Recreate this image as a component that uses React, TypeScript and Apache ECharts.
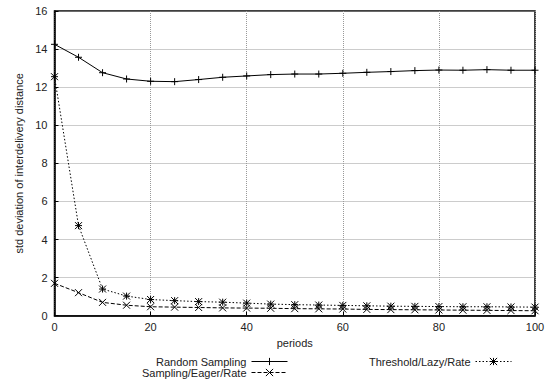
import React, { useEffect, useRef } from 'react';
import * as echarts from 'echarts';

const periods = [0, 5, 10, 15, 20, 25, 30, 35, 40, 45, 50, 55, 60, 65, 70, 75, 80, 85, 90, 95, 100];
const randomSampling = [14.25, 13.57, 12.76, 12.43, 12.31, 12.29, 12.4, 12.52, 12.59, 12.66, 12.69, 12.69, 12.73, 12.78, 12.82, 12.87, 12.9, 12.89, 12.92, 12.89, 12.89];
const samplingEagerRate = [1.7, 1.21, 0.7, 0.55, 0.47, 0.45, 0.43, 0.41, 0.4, 0.39, 0.37, 0.36, 0.35, 0.33, 0.32, 0.31, 0.3, 0.29, 0.28, 0.27, 0.26];
const thresholdLazyRate = [12.55, 4.73, 1.4, 1.03, 0.85, 0.79, 0.74, 0.71, 0.66, 0.61, 0.58, 0.56, 0.54, 0.52, 0.5, 0.49, 0.48, 0.47, 0.47, 0.46, 0.45];

const seriesNames = ['Random Sampling', 'Sampling/Eager/Rate', 'Threshold/Lazy/Rate'];
const xName = 'periods';
const yName = 'std deviation of interdelivery distance';

const FONT = '"Liberation Sans", Arial, Helvetica, sans-serif';
const TXT = '#222';

const plusSym = 'path://M0,-1V1M-1,0H1';
const crossSym = 'path://M-1,-1L1,1M-1,1L1,-1';
const starSym = 'path://M0,-1V1M-1,0H1M-1,-1L1,1M-1,1L1,-1';

const pairs = (ys: number[]) => periods.map((x, i) => [x, ys[i]]);

export default function App() {
  const ref = useRef<HTMLDivElement>(null);
  useEffect(() => {
    document.body.style.margin = '0';
    if (!ref.current) return;
    const chart = echarts.init(ref.current, undefined, { renderer: 'svg' });
    const mkSeries = (name: string, ys: number[], symbol: string, lineType: any) => ({
      name,
      type: 'line',
      data: pairs(ys),
      symbol,
      symbolSize: 7,
      showSymbol: true,
      lineStyle: { color: '#000', width: 1, type: lineType },
      itemStyle: { color: '#000', borderColor: '#000', borderWidth: 1 },
      emphasis: { disabled: true },
    });
    const legendBase = {
      orient: 'vertical',
      align: 'right',
      top: 356,
      padding: 0,
      itemGap: 0,
      itemWidth: 36,
      itemHeight: 9,
      selectedMode: false,
      lineStyle: { width: 1 },
      itemStyle: { borderWidth: 1 },
      textStyle: { color: TXT, fontSize: 11, lineHeight: 11, fontFamily: FONT },
    };
    chart.setOption({
      animation: false,
      backgroundColor: '#fff',
      textStyle: { fontFamily: FONT },
      grid: {
        left: 54.5,
        right: 13,
        top: 11,
        bottom: 67.3,
        show: true,
        borderColor: '#000',
        borderWidth: 1.5,
        backgroundColor: 'transparent',
      },
      xAxis: {
        type: 'value',
        min: 0,
        max: 100,
        interval: 20,
        name: xName,
        nameLocation: 'middle',
        nameGap: 22,
        nameTextStyle: { color: TXT, fontSize: 11, fontFamily: FONT },
        axisLine: { show: true, lineStyle: { color: '#000', width: 1.5 } },
        axisTick: { show: true, inside: true, length: 4, lineStyle: { color: '#000' } },
        axisLabel: { color: TXT, fontSize: 11, margin: 6, fontFamily: FONT },
        splitLine: { show: true, lineStyle: { color: '#999', type: [1, 1], width: 1 } },
      },
      yAxis: {
        type: 'value',
        min: 0,
        max: 16,
        interval: 2,
        name: yName,
        nameLocation: 'middle',
        nameGap: 30,
        nameTextStyle: { color: TXT, fontSize: 11, fontFamily: FONT },
        axisLine: { show: true, lineStyle: { color: '#000', width: 1.5 } },
        axisTick: { show: true, inside: true, length: 4, lineStyle: { color: '#000' } },
        axisLabel: { color: TXT, fontSize: 11, margin: 7, fontFamily: FONT },
        splitLine: { show: true, lineStyle: { color: '#999', type: [1, 1], width: 1 } },
      },
      legend: [
        { ...legendBase, data: [seriesNames[0], seriesNames[1]], right: 260 },
        { ...legendBase, data: [seriesNames[2]], right: 36 },
      ],
      series: [
        mkSeries(seriesNames[0], randomSampling, plusSym, 'solid'),
        mkSeries(seriesNames[1], samplingEagerRate, crossSym, [4, 2]),
        mkSeries(seriesNames[2], thresholdLazyRate, starSym, [1.5, 2]),
      ],
    });
    return () => chart.dispose();
  }, []);
  return <div ref={ref} style={{ width: 548, height: 383 }} />;
}
